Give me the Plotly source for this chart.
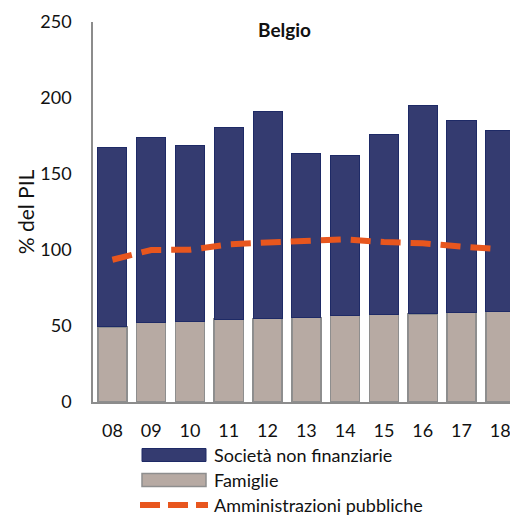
import plotly.graph_objects as go

years = ["08", "09", "10", "11", "12", "13", "14", "15", "16", "17", "18"]
famiglie = [49.5, 52.2, 52.8, 54.6, 54.8, 55.5, 57.2, 57.7, 57.9, 58.8, 59.4]
societa_totale = [167.6, 174.1, 168.9, 180.9, 191.4, 163.2, 162.3, 176.1, 195.2, 185.3, 178.7]
amministrazioni = [93.6, 100.0, 100.2, 103.7, 105.0, 106.0, 107.0, 105.2, 104.4, 102.2, 100.5]
societa = [round(t - f, 1) for t, f in zip(societa_totale, famiglie)]

NAVY = "#343B70"
NAVY_EDGE = "#1E2A66"
GREY = "#B7AAA3"
GREY_EDGE = "#8E8E8E"
ORANGE = "#E8561E"
FONT = "Lato"

fig = go.Figure()
fig.add_trace(go.Bar(x=years, y=famiglie, name="Famiglie", marker=dict(color=GREY, line=dict(color=GREY_EDGE, width=1.5)), width=0.75, showlegend=False))
fig.add_trace(go.Bar(x=years, y=societa, name="Società non finanziarie", marker=dict(color=NAVY, line=dict(color=NAVY_EDGE, width=1)), width=0.75, showlegend=False))
fig.add_trace(go.Scatter(x=years, y=amministrazioni, mode="lines", name="Amministrazioni pubbliche", line=dict(color=ORANGE, width=6, dash="20px,10px"), showlegend=False))

W, H = 510, 517
L, R, T = 93, 0, 22
B = H - 402
pw, ph = W - L - R, H - T - B
def px2paper_x(px):
    return (px - L) / pw
def px2paper_y(py):
    return 1 - (py - T) / ph

leg = [
    ("Società non finanziarie", "bar", NAVY, NAVY_EDGE, 455),
    ("Famiglie", "bar", GREY, GREY_EDGE, 480),
    ("Amministrazioni pubbliche", "line", ORANGE, ORANGE, 505),
]
for label, kind, col, edge, ypx in leg:
    if kind == "bar":
        fig.add_shape(type="rect", xref="paper", yref="paper",
                      x0=px2paper_x(142), x1=px2paper_x(206),
                      y0=px2paper_y(ypx - 6.5), y1=px2paper_y(ypx + 6.5),
                      fillcolor=col, line=dict(color=edge, width=1.5 if col == GREY else 1))
    else:
        fig.add_shape(type="line", xref="paper", yref="paper",
                      x0=px2paper_x(140), x1=px2paper_x(208),
                      y0=px2paper_y(ypx), y1=px2paper_y(ypx),
                      line=dict(color=col, width=6, dash="20px,8px"))
    fig.add_annotation(xref="paper", yref="paper", x=px2paper_x(212), y=px2paper_y(ypx),
                       xanchor="left", yanchor="middle", text=label, showarrow=False,
                       font=dict(size=18, color="#111111", family=FONT))

fig.add_annotation(xref="paper", yref="paper", x=px2paper_x(284), y=px2paper_y(30),
                   xanchor="center", yanchor="middle", text="<b>Belgio</b>", showarrow=False,
                   font=dict(size=19, color="#111111", family=FONT))

fig.update_layout(
    width=W, height=H,
    margin=dict(l=L, r=R, t=T, b=B, pad=0, autoexpand=False),
    barmode="stack",
    plot_bgcolor="white", paper_bgcolor="white",
    font=dict(family=FONT, size=18, color="#111111"),
    xaxis=dict(type="category", range=[-0.5, 10.25], showline=True, linecolor="#8C8C8C", linewidth=1.5,
               showgrid=False, ticks="", ticklabelstandoff=12, tickfont=dict(size=18), automargin=False),
    yaxis=dict(range=[0, 250], dtick=50, showline=True, linecolor="#8C8C8C", linewidth=1.5,
               showgrid=False, zeroline=False, ticks="", ticklabelstandoff=16, tickfont=dict(size=18),
               automargin=False,
               title=dict(text="% del PIL", font=dict(size=21), standoff=0)),
)

fig.write_html(
    "out.html",
    config={"displayModeBar": False},
    post_script="document.body.style.margin='0px';document.body.style.overflow='hidden';",
)
